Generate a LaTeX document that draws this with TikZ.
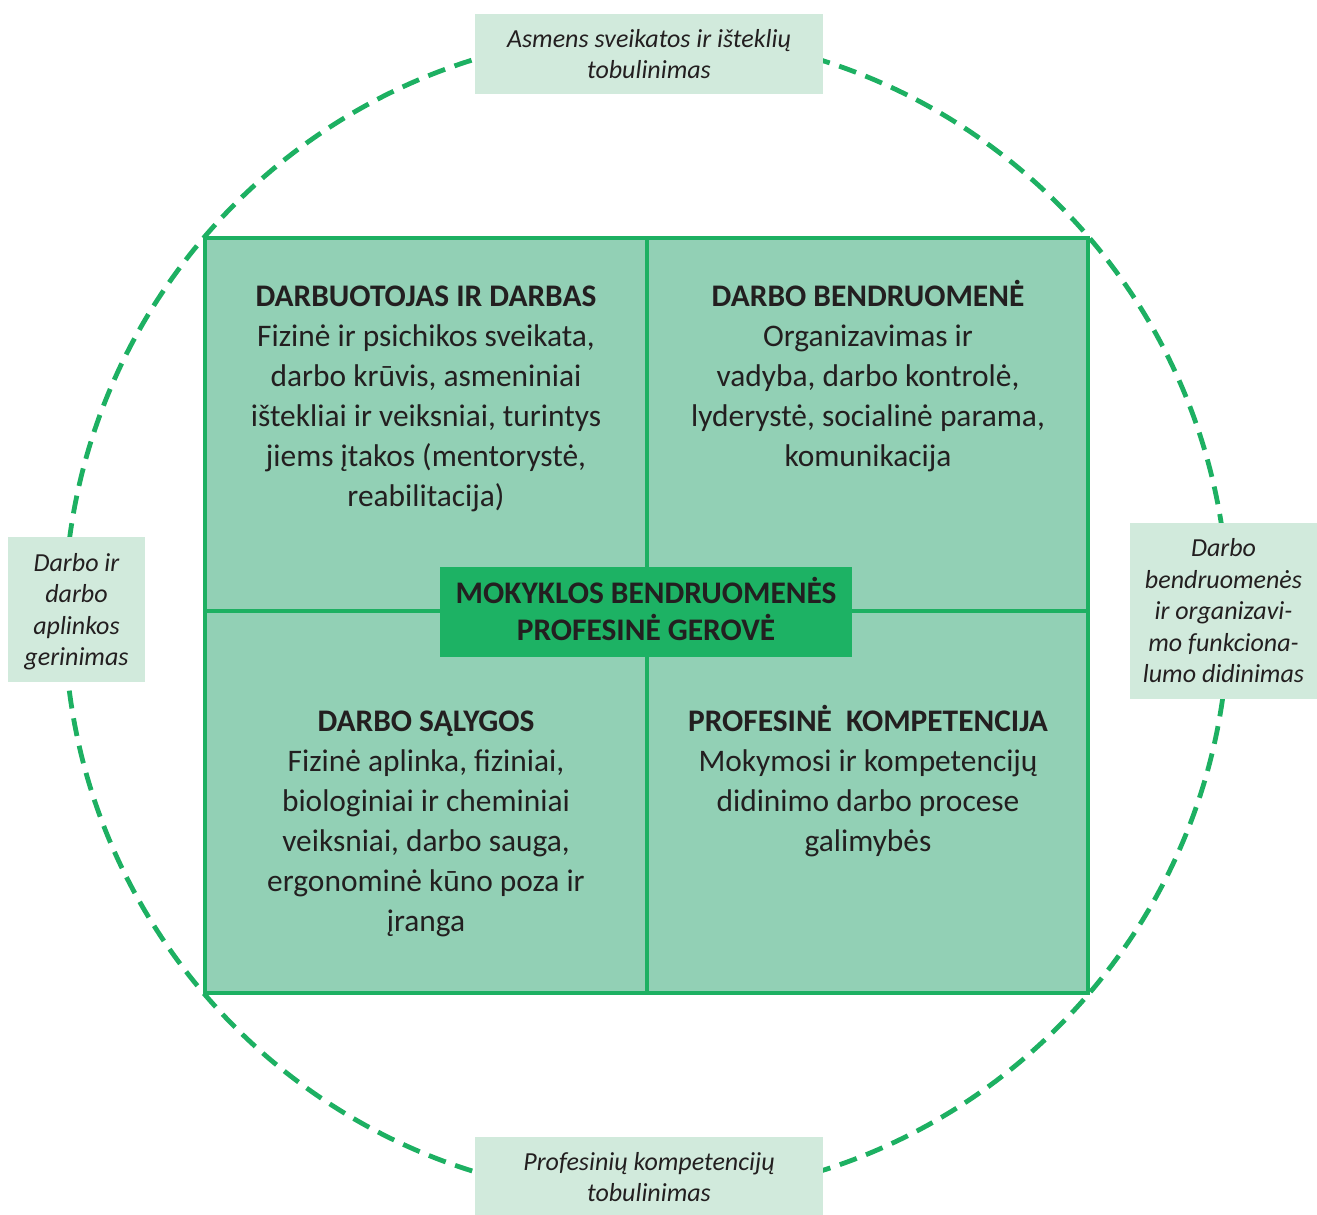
\documentclass[tikz,border=0pt]{standalone}
\usepackage{fontspec}
\setmainfont{Carlito}
\definecolor{gline}{HTML}{1DB062}
\definecolor{corefill}{HTML}{1DB264}
\definecolor{quadfill}{HTML}{92D0B5}
\definecolor{lblfill}{HTML}{D1EADC}
\definecolor{txt}{HTML}{231F20}
\newcommand\ms{\rule[-0.22\baselineskip]{0pt}{\baselineskip}}
\newcommand\lblfont{\fontsize{13pt}{15.75pt}\selectfont\itshape}
\newcommand\quadfont{\fontsize{15.7pt}{20pt}\selectfont}
\newcommand\corefont{\fontsize{15.7pt}{18.5pt}\selectfont\bfseries}
\tikzset{
  lbl/.style={fill=lblfill, inner sep=0pt, align=center, font=\lblfont, text=txt},
  quadtext/.style={anchor=north, inner sep=0pt, align=center, font=\quadfont, text=txt},
  corebox/.style={fill=corefill, inner sep=0pt, align=center, font=\corefont, text=txt,
    minimum width=206pt, minimum height=45pt},
  ring/.style={draw=gline, line width=2.4pt, dash pattern=on 9pt off 5pt},
  grid/.style={draw=gline, line width=2.4pt}
}
\begin{document}
\begin{tikzpicture}[x=0.5pt,y=-0.5pt]
\useasboundingbox (0,0) rectangle (1317,1215);
% dashed ring
\coordinate (c) at (646.5,615.5);
\draw[ring] (c) circle[radius=291pt];
% label boxes
\node[lbl, minimum width=174pt, minimum height=40pt] (ltop) at (649,54)
  {\ms Asmens sveikatos ir išteklių\\\ms tobulinimas};
\node[lbl, minimum width=68.5pt, minimum height=72.5pt] (lleft) at (76.5,609.5)
  {\ms Darbo ir\\\ms darbo\\\ms aplinkos\\\ms gerinimas};
\node[lbl, minimum width=93.5pt, minimum height=88pt] (lright) at (1223.5,611)
  {\ms Darbo\\\ms bendruomenės\\\ms ir organizavi-\\\ms mo funkciona-\\\ms lumo didinimas};
\node[lbl, minimum width=174pt, minimum height=40pt] (lbottom) at (649,1177)
  {\ms Profesinių kompetencijų\\\ms tobulinimas};
% square
\fill[quadfill] (205,238) rectangle (1088,993);
\draw[grid] (647,238) -- (647,993);
\draw[grid] (205,611) -- (1088,611);
\draw[grid, line join=miter] (205,238) rectangle (1088,993);
% quadrant texts
\node[quadtext] (q1) at (426,274.8)
  {\ms\textbf{DARBUOTOJAS IR DARBAS}\\\ms Fizinė ir psichikos sveikata,\\\ms darbo krūvis, asmeniniai\\\ms ištekliai ir veiksniai, turintys\\\ms jiems įtakos (mentorystė,\\\ms reabilitacija)};
\node[quadtext] (q2) at (868,274.8)
  {\ms\textbf{DARBO BENDRUOMENĖ}\\\ms Organizavimas ir\\\ms vadyba, darbo kontrolė,\\\ms lyderystė, socialinė parama,\\\ms komunikacija};
\node[quadtext] (q3) at (426,699.8)
  {\ms\textbf{DARBO SĄLYGOS}\\\ms Fizinė aplinka, fiziniai,\\\ms biologiniai ir cheminiai\\\ms veiksniai, darbo sauga,\\\ms ergonominė kūno poza ir\\\ms įranga};
\node[quadtext] (q4) at (868,699.8)
  {\ms\textbf{PROFESINĖ\ \ KOMPETENCIJA}\\\ms Mokymosi ir kompetencijų\\\ms didinimo darbo procese\\\ms galimybės};
% core
\node[corebox] (core) at (646,612)
  {\ms MOKYKLOS BENDRUOMENĖS\\\ms PROFESINĖ GEROVĖ};
\end{tikzpicture}
\end{document}
